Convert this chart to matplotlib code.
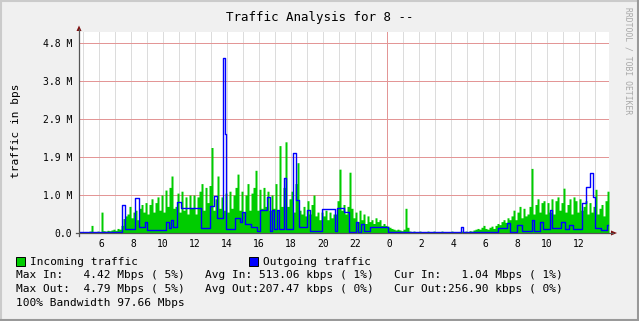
"""RRDtool style traffic graph: incoming (area) and outgoing (line) traffic over ~33 h."""
import numpy as np
import matplotlib
matplotlib.use("Agg")
import matplotlib.pyplot as plt
from matplotlib.patches import Rectangle, Polygon
from matplotlib.lines import Line2D

W, H = 639, 321
MONO = "DejaVu Sans Mono"

GREEN = "#00CC00"   # incoming
BLUE = "#0000FF"    # outgoing
BACK = "#F0F0F0"
SHADEA = "#CBCBCB"
SHADEB = "#999999"
GRID = "#DCDCDC"
MGRID = "#E39696"
ARROW = "#7F1010"

# samples: 7.5 min steps starting 04:45 (hour of day, next day = 24+)
t_start = 4.75
t_step = 0.125
# incoming traffic, units of 1e6 bps, one row per hour
in_mbps = [
    0.02, 0.03, 0.02, 0.04, 0.03, 0.05, 0.20, 0.04,
    0.04, 0.05, 0.03, 0.55, 0.06, 0.05, 0.07, 0.06,
    0.08, 0.10, 0.07, 0.12, 0.10, 0.20, 0.38, 0.45,
    0.50, 0.70, 0.40, 0.55, 0.60, 0.35, 0.65, 0.75,
    0.55, 0.80, 0.50, 0.75, 0.90, 0.55, 0.80, 0.95,
    0.60, 1.00, 0.55, 1.13, 0.70, 1.20, 1.50, 0.65,
    0.70, 1.05, 0.55, 1.10, 0.60, 0.95, 0.50, 1.00,
    0.65, 1.00, 0.50, 0.95, 1.10, 1.30, 0.60, 1.20,
    0.80, 1.25, 2.25, 0.60, 0.90, 1.50, 0.65, 0.95,
    0.60, 1.05, 0.55, 1.10, 0.65, 1.00, 1.20, 1.55,
    0.60, 1.10, 0.55, 1.00, 1.30, 0.60, 1.05, 1.20,
    1.65, 0.60, 1.15, 0.65, 1.20, 0.70, 1.10, 0.60,
    1.00, 0.65, 1.30, 0.60, 2.30, 0.70, 1.20, 2.40,
    0.70, 0.90, 1.10, 0.55, 1.30, 1.85, 0.60, 0.50,
    0.70, 0.45, 0.85, 0.50, 0.75, 1.00, 0.45, 0.55,
    0.35, 0.55, 0.45, 0.60, 0.35, 0.55, 0.40, 0.50,
    0.50, 0.85, 1.68, 0.60, 0.75, 0.50, 0.70, 1.60,
    0.65, 0.40, 0.55, 0.30, 0.60, 0.35, 0.50, 0.25,
    0.45, 0.30, 0.35, 0.25, 0.40, 0.30, 0.35, 0.20,
    0.25, 0.20, 0.18, 0.15, 0.12, 0.10, 0.08, 0.10,
    0.08, 0.06, 0.10, 0.65, 0.15, 0.05, 0.04, 0.05,
    0.03, 0.04, 0.05, 0.03, 0.04, 0.03, 0.05, 0.04,
    0.04, 0.05, 0.03, 0.04, 0.03, 0.05, 0.04, 0.03,
    0.03, 0.04, 0.05, 0.04, 0.03, 0.02, 0.04, 0.05,
    0.04, 0.05, 0.03, 0.06, 0.05, 0.08, 0.10, 0.12,
    0.10, 0.15, 0.20, 0.12, 0.10, 0.15, 0.18, 0.12,
    0.20, 0.25, 0.22, 0.30, 0.35, 0.28, 0.40, 0.35,
    0.45, 0.60, 0.35, 0.55, 0.70, 0.40, 0.65, 0.45,
    0.50, 0.70, 1.70, 0.50, 0.75, 0.90, 0.55, 0.80,
    0.85, 0.50, 0.80, 0.55, 0.90, 0.50, 0.85, 0.95,
    0.60, 0.80, 1.18, 0.55, 0.75, 0.90, 0.50, 0.95,
    0.85, 0.55, 0.90, 0.60, 0.70, 0.85, 0.50, 0.80,
    0.55, 0.70, 1.15, 0.50, 0.65, 0.75, 0.45, 0.85,
    1.10,
]
# outgoing traffic as steps: value holds from each hour until the next
out_hours = [4.75, 7.45, 7.6, 8.25, 8.5, 8.9, 9.0, 10.2, 10.35, 10.5, 10.65,
             10.9, 11.15, 12.4, 12.95, 13.2, 13.4, 13.75, 13.85, 13.94,
             14.5, 14.8, 14.94, 15.1, 15.5, 15.9, 16.05, 16.5, 16.7, 16.8,
             16.95, 17.1, 17.25, 17.54, 17.7, 18.15, 18.3, 18.5, 19.0, 19.2,
             19.94, 20.75, 20.87, 21.3, 21.6, 22.06, 22.2, 22.37, 22.56,
             22.94, 24.06, 28.62, 28.75, 30.94, 31.5, 31.7, 32.1, 32.44,
             33.06, 33.2, 33.56, 33.75, 34.2, 34.3, 34.9, 35.1, 35.4, 35.6,
             36.19, 36.44, 36.69, 36.9, 37.0, 37.4, 37.75, 37.875]
out_mbps = [0.03, 0.75, 0.10, 0.92, 0.15, 0.30, 0.08, 0.30, 0.12, 0.35, 0.15,
            0.82, 0.65, 0.12, 0.70, 0.97, 0.40, 4.60, 2.60, 0.10,
            0.40, 0.30, 0.56, 0.25, 0.15, 0.05, 0.60, 0.95, 0.05, 0.60,
            0.10, 0.60, 0.10, 1.45, 0.10, 2.10, 0.87, 0.15, 0.60, 0.05,
            0.63, 0.05, 0.65, 0.55, 0.02, 0.30, 0.02, 0.25, 0.05,
            0.17, 0.03, 0.17, 0.02, 0.12, 0.26, 0.03, 0.20, 0.06,
            0.34, 0.05, 0.30, 0.10, 0.60, 0.12, 0.30, 0.10, 0.20, 0.10,
            0.80, 1.20, 1.58, 0.95, 0.12, 0.08, 0.22, 0.22]

y_ticks = [0, 1, 2, 3, 4, 5]
y_labels = ["0.0", "1.0 M", "1.9 M", "2.9 M", "3.8 M", "4.8 M"]
x_label_hours = list(range(6, 38, 2))
title = "Traffic Analysis for 8 --"
stats = [
    "Max In:   4.42 Mbps ( 5%)   Avg In: 513.06 kbps ( 1%)   Cur In:   1.04 Mbps ( 1%)",
    "Max Out:  4.79 Mbps ( 5%)   Avg Out:207.47 kbps ( 0%)   Cur Out:256.90 kbps ( 0%)",
    "100% Bandwidth 97.66 Mbps",
]


def fx(x):
    return x / W


def fy(y):
    return 1 - y / H


fig = plt.figure(figsize=(W / 100, H / 100), dpi=100, facecolor=BACK)

# outer 3d frame
fig.add_artist(Line2D([fx(0.5), fx(638.5)], [fy(1), fy(1)], color=SHADEA, lw=1.5))
fig.add_artist(Line2D([fx(1), fx(1)], [fy(0.5), fy(320.5)], color=SHADEA, lw=1.5))
fig.add_artist(Line2D([fx(0.5), fx(638.5)], [fy(320), fy(320)], color=SHADEB, lw=1.5))
fig.add_artist(Line2D([fx(638), fx(638)], [fy(0.5), fy(320.5)], color=SHADEB, lw=1.5))

x0, x1, ytop, ybot = 79, 609, 32, 233
ax = fig.add_axes([fx(x0), fy(ybot), (x1 - x0) / W, (ybot - ytop) / H])
ax.set_facecolor("white")
for s in ax.spines.values():
    s.set_visible(False)

t_edges = t_start + t_step * np.arange(len(in_mbps) + 1)
vals = np.append(in_mbps, in_mbps[-1])
ax.set_xlim(t_start, t_edges[-1])
ax.set_ylim(0, 5.29)

# grid
for h in range(5, 38):
    ax.axvline(h, color=MGRID if h == 24 else GRID, lw=0.72, zorder=0)
for v in y_ticks[1:]:
    ax.axhline(v, color=MGRID, lw=0.72, zorder=0)

ax.fill_between(t_edges, vals, step="post", color=GREEN, lw=0, zorder=2)
ax.step(out_hours, out_mbps, where="post", color=BLUE, lw=1.0, zorder=3)

ax.set_yticks(y_ticks)
ax.set_yticklabels(y_labels, fontsize=7, family=MONO)
ax.set_xticks(x_label_hours)
ax.set_xticklabels([f"{h % 24:2d}" for h in x_label_hours], fontsize=7, family=MONO)
ax.tick_params(axis="y", length=0, pad=5)
ax.tick_params(axis="x", length=0, pad=4)

# axes with arrows
fig.add_artist(Line2D([fx(79), fx(79)], [fy(236), fy(29)], color="#555555", lw=0.9))
fig.add_artist(Line2D([fx(76), fx(613)], [fy(233), fy(233)], color="#555555", lw=0.9))
fig.add_artist(Polygon([[fx(76.5), fy(31)], [fx(81.5), fy(31)], [fx(79), fy(25.5)]],
                       closed=True, color=ARROW, lw=0))
fig.add_artist(Polygon([[fx(611), fy(230.5)], [fx(611), fy(235.5)], [fx(617), fy(233)]],
                       closed=True, color=ARROW, lw=0))

fig.text(fx(320), fy(17), title, ha="center", va="center", fontsize=9, family=MONO)
fig.text(fx(16), fy(131), "traffic in bps", rotation=90, ha="center", va="center",
         fontsize=8, family=MONO)
fig.text(fx(628), fy(7), "RRDTOOL / TOBI OETIKER", rotation=270, ha="center", va="top",
         fontsize=5.8, family=MONO, color="#A8A8A8")

# legend
for sx, col, label in ((16, GREEN, "Incoming traffic"), (249, BLUE, "Outgoing traffic")):
    fig.add_artist(Rectangle((fx(sx), fy(265.5)), 8.5 / W, 8.5 / H,
                             facecolor=col, edgecolor="black", lw=0.7))
    fig.text(fx(sx + 14), fy(262), label, ha="left", va="center", fontsize=8, family=MONO)
for i, line in enumerate(stats):
    fig.text(fx(16), fy(275.5 + 13.8 * i), line, ha="left", va="center",
             fontsize=8, family=MONO)

fig.savefig("out.png", dpi=100, facecolor=BACK)
